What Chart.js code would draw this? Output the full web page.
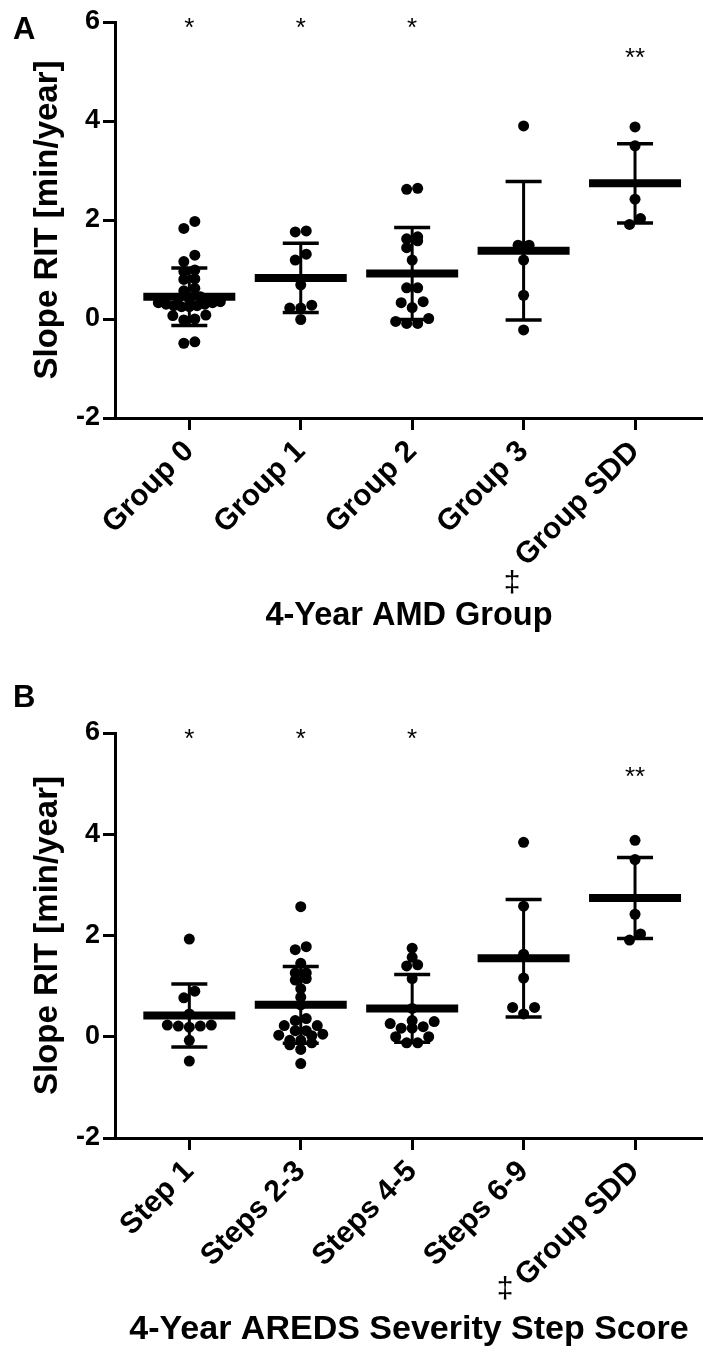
<!DOCTYPE html>
<html><head><meta charset="utf-8">
<script src="https://cdn.jsdelivr.net/npm/chart.js@4.4.0/dist/chart.umd.min.js"></script>
<style>
html,body{margin:0;padding:0;background:#fff;}
#wrap{position:relative;width:703px;height:1355px;overflow:hidden;background:#fff;}
#cA{position:absolute;left:0;top:0;}
#cB{position:absolute;left:0;top:660px;}
</style></head><body>
<div id="wrap">
<canvas id="cA" width="703" height="660"></canvas>
<canvas id="cB" width="703" height="695"></canvas>
</div>
<script>
// ---------- data ----------
const groupsA = ['Group 0', 'Group 1', 'Group 2', 'Group 3', 'Group SDD'];
const groupsB = ['Step 1', 'Steps 2-3', 'Steps 4-5', 'Steps 6-9', 'Group SDD'];
const yTicks = [-2, 0, 2, 4, 6];
const titleXA = '4-Year AMD Group';
const titleXB = '4-Year AREDS Severity Step Score';
const titleY = 'Slope RIT [min/year]';
const sigA = ['*', '*', '*', '', '**'];
const sigB = ['*', '*', '*', '', '**'];

// Panel A individual slopes
const a0 = [1.97, 1.83, 1.29, 1.16, 0.99, 0.96, 0.81, 0.80, 0.62, 0.57, 0.45, 0.42, 0.40, 0.35, 0.33, 0.33, 0.30, 0.30, 0.27, 0.27, 0.25, 0.25, 0.08, 0.07, 0.00, -0.02, -0.46, -0.49];
const a1 = [1.78, 1.76, 1.31, 1.19, 0.69, 0.28, 0.22, 0.22, -0.01];
const a2 = [2.64, 2.62, 1.66, 1.62, 1.58, 1.44, 1.19, 0.63, 0.63, 0.35, 0.33, 0.23, 0.01, -0.05, -0.09, -0.09];
const a3 = [3.90, 1.49, 1.49, 1.19, 0.48, -0.22];
const aS = [3.88, 3.50, 2.42, 2.03, 1.91];
const meanA = [0.45, 0.83, 0.92, 1.38, 2.74];
const sdA = [0.58, 0.70, 0.93, 1.40, 0.80];

// Panel B individual slopes
const b0 = [1.93, 0.90, 0.77, 0.45, 0.23, 0.23, 0.21, 0.21, 0.19, -0.07, -0.48];
const b1 = [2.57, 1.78, 1.72, 1.45, 1.26, 1.26, 1.15, 1.12, 0.95, 0.78, 0.63, 0.36, 0.32, 0.22, 0.22, 0.12, 0.12, 0.05, 0.03, 0.02, -0.07, -0.07, -0.12, -0.16, -0.25, -0.53];
const b2 = [1.75, 1.57, 1.42, 1.40, 1.15, 0.56, 0.32, 0.30, 0.26, 0.20, 0.17, 0.17, 0.00, 0.00, -0.12, -0.12];
const b3 = [3.84, 2.58, 1.63, 1.16, 0.58, 0.58, 0.45];
const bS = [3.88, 3.50, 2.42, 2.03, 1.91];
const meanB = [0.42, 0.63, 0.56, 1.55, 2.74];
const sdB = [0.62, 0.76, 0.67, 1.16, 0.80];

// ---------- drawing ----------
const FONT = '"Liberation Sans", Arial, Helvetica, sans-serif';
Chart.defaults.font.family = FONT;
Chart.defaults.color = '#000';

const annot = {
  id: 'annot',
  afterDraw(chart, args, o) {
    const ctx = chart.ctx, xs = chart.scales.x, ys = chart.scales.y;
    ctx.save();
    ctx.fillStyle = '#000';
    ctx.textAlign = 'left';
    ctx.textBaseline = 'alphabetic';
    ctx.font = 'bold 31px ' + FONT;
    ctx.fillText(o.letter, 13, o.letterY);
    ctx.textAlign = 'center';
    ctx.font = '26px ' + FONT;
    o.sig.forEach((s, i) => {
      if (!s) return;
      const lvl = s.length > 1 ? o.level2 : o.level1;
      ctx.fillText(s, xs.getPixelForValue(i), ys.getPixelForValue(lvl) + 14);
    });
    ctx.font = '30px ' + FONT;
    ctx.fillText('\u2021', xs.getPixelForValue(4) + o.daggerDX, o.daggerY);
    ctx.restore();
  }
};

function swarm(chart, groups) {
  const xs = chart.scales.x, ys = chart.scales.y;
  const pxX = xs.getPixelForValue(1) - xs.getPixelForValue(0);
  const D = 11, ROW = 7, MAXW = 62;
  const out = [];
  groups.forEach((vals, i) => {
    const sorted = vals.slice().sort((a, b) => a - b);
    const rows = [];
    let row = [];
    sorted.forEach(v => {
      const py = ys.getPixelForValue(v);
      if (row.length && Math.abs(py - row[0].py) > ROW) { rows.push(row); row = []; }
      row.push({ v, py });
    });
    if (row.length) rows.push(row);
    rows.forEach(r => {
      const n = r.length;
      const step = n > 1 ? Math.min(D, MAXW / (n - 1)) : 0;
      const offs = [];
      for (let j = 0; j < n; j++) offs.push((j - (n - 1) / 2) * step);
      offs.sort((p, q) => Math.abs(p) - Math.abs(q) || p - q);
      r.forEach((p, j) => out.push({ x: i + offs[j] / pxX, y: p.v }));
    });
  });
  return out;
}

function makePanel(id, cats, groups, means, sds, lay) {
  const datasets = [
    { data: means.map((m, i) => ({ x: i, y: m })), pointStyle: 'line', pointRadius: 46,
      pointBorderWidth: 8, pointBorderColor: '#000', pointBackgroundColor: '#000', order: 1 },
    { data: means.flatMap((m, i) => [{ x: i, y: m + sds[i] }, { x: i, y: m - sds[i] }]), pointStyle: 'line',
      pointRadius: 18, pointBorderWidth: 3.5, pointBorderColor: '#000', order: 2 }
  ];
  means.forEach((m, i) => {
    datasets.push({ data: [{ x: i, y: m - sds[i] }, { x: i, y: m + sds[i] }], showLine: true, pointRadius: 0,
      borderWidth: 3, borderColor: '#000', order: 3 });
  });
  datasets.push({ data: [], pointRadius: 5.5, pointBorderWidth: 0, pointBackgroundColor: '#000', pointBorderColor: '#000', order: 4 });

  const H = lay.height;
  const chart = new Chart(document.getElementById(id), {
    type: 'scatter',
    data: { datasets },
    plugins: [annot],
    options: {
      responsive: false,
      animation: false,
      events: [],
      layout: { autoPadding: false, padding: { top: lay.top, left: 0, right: 0, bottom: 0 } },
      plugins: {
        legend: { display: false },
        tooltip: { enabled: false },
        annot: lay.annot
      },
      scales: {
        x: {
          type: 'linear', min: -0.667, max: 4.61,
          afterBuildTicks: s => { s.ticks = cats.map((c, i) => ({ value: i })); },
          afterFit: s => { s.height = H - lay.bottom; },
          ticks: { autoSkip: false, minRotation: 45, maxRotation: 45, padding: 4, color: '#000',
            font: { size: 30, weight: 'bold' }, callback: (v, i) => cats[i] },
          grid: { drawOnChartArea: false, drawTicks: true, tickLength: 12, tickWidth: 3, tickColor: '#000', color: '#000' },
          border: { display: true, color: '#000', width: 3 },
          title: { display: true, text: lay.xTitle, color: '#000', font: { size: lay.titleSize, weight: 'bold' },
            padding: { top: 0, bottom: lay.titlePad } }
        },
        y: {
          type: 'linear', min: -2, max: 6,
          afterBuildTicks: s => { s.ticks = yTicks.map(v => ({ value: v })); },
          afterFit: s => { s.width = 115; },
          ticks: { padding: 3, color: '#000', font: { size: 27, weight: 'bold' } },
          grid: { drawOnChartArea: false, drawTicks: true, tickLength: 12, tickWidth: 3, tickColor: '#000', color: '#000' },
          border: { display: true, color: '#000', width: 3 },
          title: { display: true, text: titleY, color: '#000', font: { size: 33, weight: 'bold' },
            padding: { top: 28, bottom: 0 } }
        }
      }
    }
  });
  chart.data.datasets[chart.data.datasets.length - 1].data = swarm(chart, groups);
  chart.update('none');
  return chart;
}

makePanel('cA', groupsA, [a0, a1, a2, a3, aS], meanA, sdA, {
  height: 660, top: 22, bottom: 418, xTitle: titleXA, titleSize: 32.5, titlePad: 24,
  annot: { letter: 'A', letterY: 39, sig: sigA, level1: 6, level2: 5.4, daggerDX: -123, daggerY: 592 }
});
makePanel('cB', groupsB, [b0, b1, b2, b3, bS], meanB, sdB, {
  height: 695, top: 73, bottom: 478, xTitle: titleXB, titleSize: 34, titlePad: 5,
  annot: { letter: 'B', letterY: 47, sig: sigB, level1: 6, level2: 5.25, daggerDX: -130, daggerY: 638 }
});
</script>
</body></html>
